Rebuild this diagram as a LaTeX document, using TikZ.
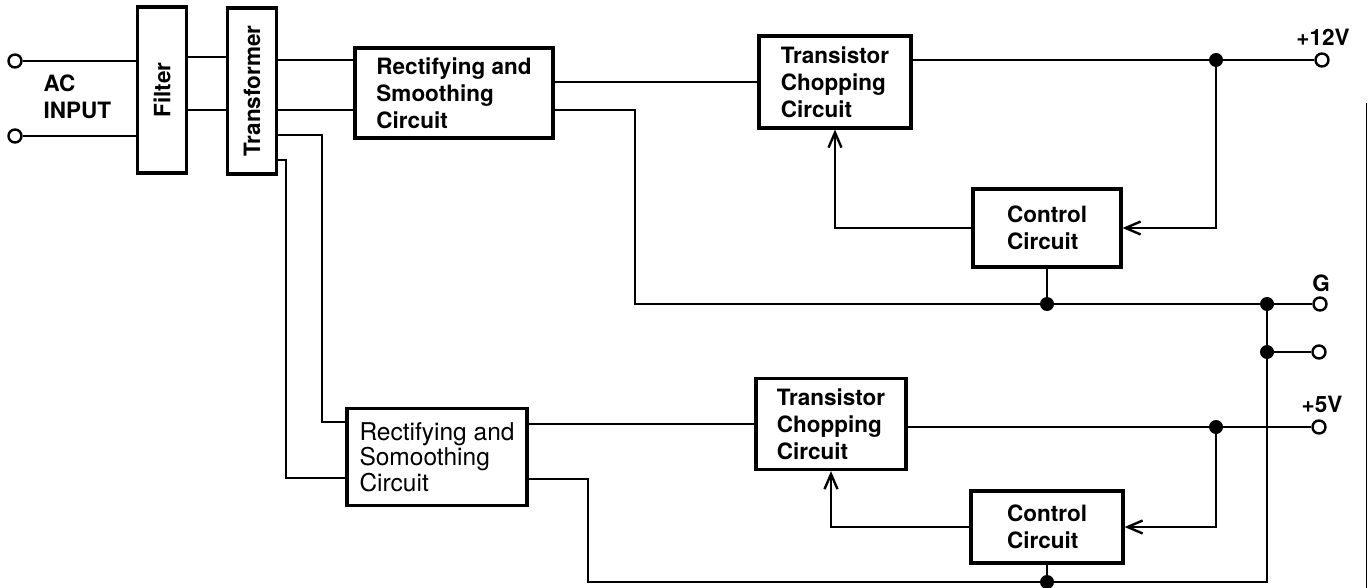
\documentclass[tikz,border=0pt]{standalone}
\usepackage{fontspec}
\setmainfont{TeX Gyre Heros}
\usetikzlibrary{arrows.meta}

\begin{document}
\begin{tikzpicture}[x=1pt,y=-1pt,
  wire/.style={line width=2.4pt},
  blk/.style={draw,line width=3.2pt,inner sep=0pt,align=left,font=\fontsize{22.5}{27}\selectfont\bfseries},
  term/.style={circle,draw,fill=white,line width=2.4pt,inner sep=0pt,minimum size=13pt},
  jdot/.style={circle,fill,inner sep=0pt,minimum size=14pt},
  fb/.style={wire,-{Straight Barb[length=15pt,width=13pt]}},
  lbl/.style={font=\fontsize{22.5}{27}\selectfont\bfseries}]
\useasboundingbox (0,0) rectangle (1368,588);
% input side
\node[term] (ac1) at (15,61) {};
\node[term] (ac2) at (15,136) {};
\node[lbl,anchor=west,align=left] (acin) at (40,97) {AC\\INPUT};
\node[blk,minimum width=49pt,minimum height=166pt] (filter) at (162,90) {\rotatebox{90}{Filter}};
\node[blk,minimum width=49pt,minimum height=166pt] (trans) at (252,91) {\rotatebox{90}{Transformer}};
% 12V channel
\node[blk,minimum width=198pt,minimum height=90pt] (rect1) at (454,93) {Rectifying and\\Smoothing\\Circuit};
\node[blk,minimum width=152pt,minimum height=92pt] (tcc1) at (835,82) {Transistor\\Chopping\\Circuit};
\node[blk,minimum width=148pt,minimum height=78pt] (ctl1) at (1047,228) {Control\\Circuit};
% 5V channel
\node[blk,minimum width=180pt,minimum height=97pt,font=\fontsize{24.5}{25.5}\selectfont] (rect2) at (437,457) {Rectifying and\\Somoothing\\Circuit};
\node[blk,minimum width=150pt,minimum height=91pt] (tcc2) at (831,424) {Transistor\\Chopping\\Circuit};
\node[blk,minimum width=152pt,minimum height=72pt] (ctl2) at (1047,527) {Control\\Circuit};
% outputs
\node[term] (t12) at (1322,60) {};
\node[term] (tG) at (1320,304) {};
\node[term] (tX) at (1319,352) {};
\node[term] (t5) at (1319,427) {};
\node[lbl] (l12) at (1323,37) {+12V};
\node[lbl] (lG) at (1321,283) {G};
\node[lbl] (l5) at (1322,404) {+5V};

\draw[wire] (ac1) -- (ac1 -| filter.west);
\draw[wire] (ac2) -- (ac2 -| filter.west);
\draw[wire] (filter.east |- 0,57) -- (trans.west |- 0,57);
\draw[wire] (filter.east |- 0,110) -- (trans.west |- 0,110);
\draw[wire] (trans.east |- 0,60) -- (rect1.west |- 0,60);
\draw[wire] (trans.east |- 0,110) -- (rect1.west |- 0,110);
\draw[wire] (trans.east |- 0,135) -| (322,422) -- (rect2.west |- 0,422);
\draw[wire] (trans.east |- 0,160) -| (286,478) -- (rect2.west |- 0,478);
% +12V loop
\draw[wire] (rect1.east |- tcc1.west) -- (tcc1.west);
\draw[wire] (tcc1.east |- t12) -- (t12);
\node[jdot] (d12) at (1216,60) {};
\draw[fb] (d12) |- (ctl1.east);
\draw[fb] (ctl1.west) -| (tcc1.south);
% ground
\draw[wire] (rect1.east |- 0,110) -| (635,304) -- (tG);
\node[jdot] (dG1) at (ctl1.south |- tG) {};
\draw[wire] (ctl1.south) -- (dG1);
\node[jdot] (dG2) at (1267,304) {};
\node[jdot] (dX) at (1267,352) {};
\draw[wire] (dX) -- (tX);
\draw[wire] (dG2) -- (dG2 |- 0,582) -| (588,479) -- (rect2.east |- 0,479);
% +5V loop
\draw[wire] (rect2.east |- tcc2.west) -- (tcc2.west);
\draw[wire] (tcc2.east |- t5) -- (t5);
\node[jdot] (d5) at (1216,427) {};
\draw[fb] (d5) |- (ctl2.east);
\draw[fb] (ctl2.west) -| (tcc2.south);
\node[jdot] (dB) at (ctl2.south |- 0,582) {};
\draw[wire] (ctl2.south) -- (dB);
% page edge
\draw[line width=1pt] (1366,103) -- (1366,588);
\end{tikzpicture}
\end{document}
